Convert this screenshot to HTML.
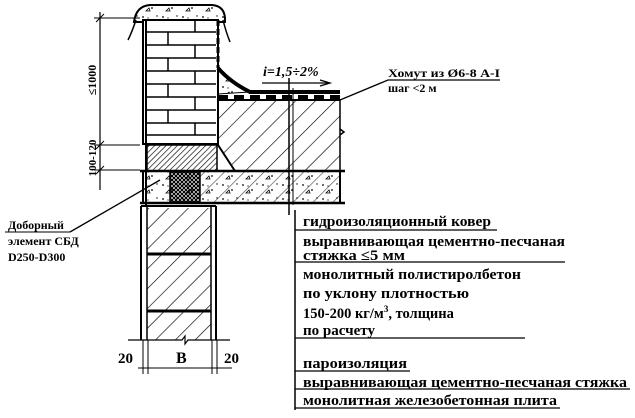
<!DOCTYPE html>
<html><head><meta charset="utf-8"><style>
body{margin:0;background:#fff}
svg{display:block}
text{font-family:"Liberation Serif",serif;font-weight:bold;fill:#000}
</style></head><body>
<svg width="635" height="418" viewBox="0 0 635 418" xmlns="http://www.w3.org/2000/svg">
<defs>
<pattern id="h" width="14" height="14" patternUnits="userSpaceOnUse" patternTransform="rotate(45)"><line x1="0" y1="0" x2="0" y2="14" stroke="#000" stroke-width="1.3"/></pattern>
<pattern id="hd" width="4" height="4" patternUnits="userSpaceOnUse" patternTransform="rotate(45)"><line x1="0" y1="0" x2="0" y2="4" stroke="#000" stroke-width="1.3"/></pattern>
<pattern id="x" width="4" height="4" patternUnits="userSpaceOnUse"><path d="M0 0L4 4M4 0L0 4" stroke="#000" stroke-width="1.2"/></pattern>
<pattern id="c" width="20" height="14" patternUnits="userSpaceOnUse"><circle cx="3" cy="3" r="0.9"/><circle cx="12" cy="8" r="0.9"/><path d="M6 11l3-3 1 3z" fill="none" stroke="#000" stroke-width="0.8"/><circle cx="17" cy="2" r="0.7"/><circle cx="8" cy="4" r="0.6"/></pattern>
</defs>
<g stroke="#000" fill="none">
<path d="M134 22 Q136 6 150 5 L212 5 Q226 6 225 22 Z" fill="url(#c)" stroke-width="2"/>
<path d="M136 20 Q132 32 128 40 M223 20 Q226 32 230 42" stroke-width="1.5"/>
<rect x="143" y="20" width="75" height="124" fill="#fff" stroke-width="2"/>
<line x1="146" y1="20" x2="146" y2="205" stroke-width="2"/>
<g stroke-width="1.5">
<line x1="147" y1="32" x2="216" y2="32"/><line x1="147" y1="45" x2="216" y2="45"/>
<line x1="147" y1="58" x2="216" y2="58"/><line x1="147" y1="71" x2="216" y2="71"/>
<line x1="147" y1="84" x2="216" y2="84"/><line x1="147" y1="97" x2="216" y2="97"/>
<line x1="147" y1="110" x2="216" y2="110"/><line x1="147" y1="123" x2="216" y2="123"/>
<line x1="147" y1="135" x2="216" y2="135"/>
<line x1="195" y1="20" x2="195" y2="32"/><line x1="168" y1="32" x2="168" y2="45"/>
<line x1="195" y1="45" x2="195" y2="58"/><line x1="168" y1="58" x2="168" y2="71"/>
<line x1="195" y1="71" x2="195" y2="84"/><line x1="168" y1="84" x2="168" y2="97"/>
<line x1="195" y1="97" x2="195" y2="110"/><line x1="168" y1="110" x2="168" y2="123"/>
<line x1="195" y1="123" x2="195" y2="135"/>
</g>
<line x1="218" y1="20" x2="218" y2="68" stroke-width="3" stroke-dasharray="6 3"/>
<rect x="147" y="145" width="70" height="26" fill="url(#hd)" stroke-width="1.5"/>
<rect x="143" y="171" width="197" height="32" fill="url(#c)" stroke-width="2"/>
<rect x="200" y="171" width="140" height="32" fill="url(#h)" stroke="none" opacity="0.7"/>
<rect x="170" y="172" width="30" height="30" fill="url(#x)" stroke-width="1.5"/>
<path d="M218 145 L218 100 L340 100 L340 171 L235 171 Z" fill="url(#h)" stroke-width="1.5"/>
<path d="M218 145 L235 171" stroke-width="2"/>
<path d="M218 68 Q226 78 250 92 L218 94 Z" fill="url(#c)" stroke-width="1"/>
<path d="M218 68 Q230 82 250 92 L340 92" stroke-width="4"/>
<line x1="218" y1="97" x2="340" y2="97" stroke-width="4" stroke-dasharray="10 6"/>
<line x1="218" y1="100" x2="340" y2="100" stroke-width="2"/>
<line x1="140" y1="171" x2="345" y2="171" stroke-width="2.5"/>
<line x1="140" y1="203" x2="345" y2="203" stroke-width="2.5"/>
<path d="M340 135 l4 -3 -4 -3" stroke-width="1.5"/>
<line x1="289" y1="78" x2="289" y2="215" stroke-width="1.5"/>
<line x1="293" y1="88" x2="293" y2="205" stroke-width="1"/>
<line x1="262" y1="83" x2="328" y2="83" stroke-width="1.3"/><path d="M320 80 L330 83 L320 86" stroke-width="1.3"/>
<path d="M340 100 L388 80 L500 80" stroke-width="1.3"/>
<line x1="141" y1="206" x2="141" y2="340" stroke-width="2"/>
<line x1="216" y1="206" x2="216" y2="340" stroke-width="2"/>
<line x1="141" y1="206" x2="216" y2="206" stroke-width="2"/>
<line x1="147" y1="206" x2="147" y2="340" stroke-width="1.5"/>
<line x1="211" y1="206" x2="211" y2="340" stroke-width="1.5"/>
<rect x="147" y="208" width="64" height="132" fill="url(#h)" stroke="none"/>
<line x1="147" y1="254" x2="211" y2="254" stroke-width="3"/>
<line x1="147" y1="311" x2="211" y2="311" stroke-width="3"/>
<path d="M128 340 L182 340 l3 -4 l0 8 l3 -4 L230 340" stroke-width="1.2"/>
<line x1="138" y1="368" x2="232" y2="368" stroke-width="1"/>
<g stroke-width="1"><line x1="143" y1="340" x2="143" y2="374"/><line x1="148" y1="340" x2="148" y2="374"/><line x1="212" y1="340" x2="212" y2="374"/><line x1="217" y1="340" x2="217" y2="374"/></g>
<line x1="100" y1="12" x2="100" y2="190" stroke-width="1.2"/>
<g stroke-width="1"><line x1="94" y1="18" x2="140" y2="18"/><line x1="94" y1="145" x2="140" y2="145"/><line x1="94" y1="170" x2="140" y2="170"/>
<line x1="96" y1="22" x2="104" y2="14"/><line x1="96" y1="149" x2="104" y2="141"/><line x1="96" y1="174" x2="104" y2="166"/></g>
<path d="M70 232 L160 180" stroke-width="1.3"/>
<line x1="5" y1="232" x2="70" y2="232" stroke-width="1"/>
<line x1="295" y1="210" x2="295" y2="410" stroke-width="1.5"/>
<g stroke-width="1.2">
<line x1="295" y1="230" x2="497" y2="230"/>
<line x1="295" y1="262" x2="565" y2="262"/>
<line x1="295" y1="338" x2="525" y2="338"/>
<line x1="295" y1="371" x2="410" y2="371"/>
<line x1="295" y1="389" x2="630" y2="389"/>
<line x1="295" y1="408" x2="560" y2="408"/>
</g>
</g>
<text x="263" y="76" font-size="14" font-style="italic">i=1,5÷2%</text>
<text x="388" y="77" font-size="12" textLength="112" lengthAdjust="spacingAndGlyphs">Хомут из Ø6-8 А-I</text>
<text x="388" y="92" font-size="12">шаг &lt;2 м</text>
<text transform="translate(96,80) rotate(-90)" text-anchor="middle" font-size="12">≤1000</text>
<text transform="translate(96,158) rotate(-90)" text-anchor="middle" font-size="11">100-120</text>
<text x="8" y="229" font-size="12">Доборный</text>
<text x="8" y="245" font-size="12">элемент СБД</text>
<text x="8" y="261" font-size="12">D250-D300</text>
<text x="118" y="363" font-size="15">20</text>
<text x="176" y="363" font-size="16">B</text>
<text x="224" y="363" font-size="15">20</text>
<g font-size="14.5" lengthAdjust="spacingAndGlyphs">
<text x="303" y="226" textLength="188" lengthAdjust="spacingAndGlyphs">гидроизоляционный ковер</text>
<text x="303" y="246" textLength="262" lengthAdjust="spacingAndGlyphs">выравнивающая цементно-песчаная</text>
<text x="303" y="260" textLength="102" lengthAdjust="spacingAndGlyphs">стяжка ≤5 мм</text>
<text x="303" y="279" textLength="218" lengthAdjust="spacingAndGlyphs">монолитный полистиролбетон</text>
<text x="303" y="298" textLength="166" lengthAdjust="spacingAndGlyphs">по уклону плотностью</text>
<text x="303" y="318">150-200 кг/м<tspan font-size="9" dy="-6">3</tspan><tspan dy="6">, толщина</tspan></text>
<text x="303" y="335" textLength="72" lengthAdjust="spacingAndGlyphs">по расчету</text>
<text x="303" y="368" textLength="104" lengthAdjust="spacingAndGlyphs">пароизоляция</text>
<text x="303" y="387" textLength="324" lengthAdjust="spacingAndGlyphs">выравнивающая цементно-песчаная стяжка</text>
<text x="303" y="405" textLength="254" lengthAdjust="spacingAndGlyphs">монолитная железобетонная плита</text>
</g>
</svg>
</body></html>
